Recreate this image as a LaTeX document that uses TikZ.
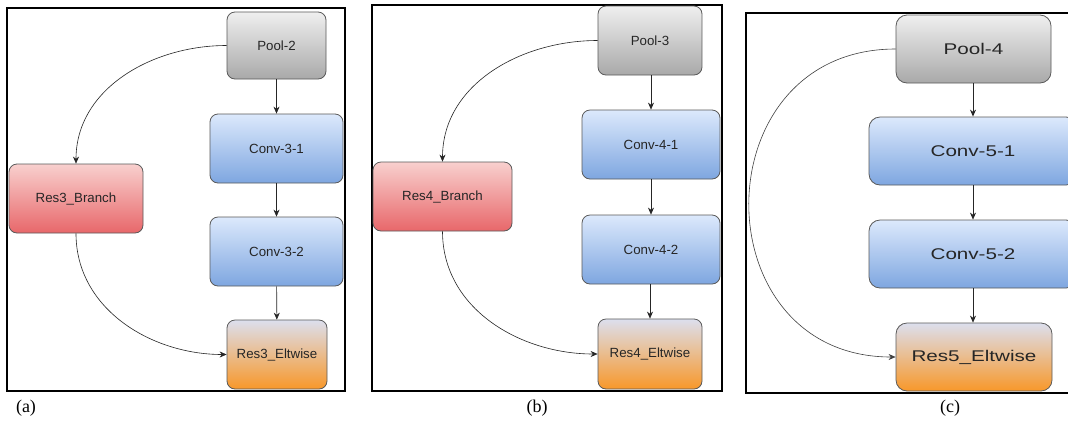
\documentclass[tikz,border=0pt]{standalone}
\usepackage{fontspec}
\usepackage{graphicx}
\setmainfont{Liberation Serif}
\newfontfamily\arialf{Liberation Sans}
\usetikzlibrary{arrows.meta}
\definecolor{boxline}{HTML}{5A5A5A}
\definecolor{poolTop}{HTML}{EFEFEF}
\definecolor{poolBot}{HTML}{A9A9A9}
\definecolor{convTop}{HTML}{DCE9FC}
\definecolor{convBot}{HTML}{7EA6E0}
\definecolor{resTop}{HTML}{F8D0CE}
\definecolor{resBot}{HTML}{E8676A}
\definecolor{eltTop}{HTML}{DCDFEE}
\definecolor{eltMid}{HTML}{F2C6A0}
\definecolor{eltBot}{HTML}{F8982A}
\newcommand\widetxt[1]{\scalebox{1.33}[1]{#1}}
\begin{document}
\begin{tikzpicture}[x=1pt,y=-1pt,
  box/.style={draw=boxline, line width=0.8pt, rounded corners=8pt, inner sep=0pt,
    font=\arialf\fontsize{13.3}{16}\selectfont, text=black!85},
  bigbox/.style={rounded corners=11pt, font=\arialf\fontsize{15.5}{18}\selectfont},
  poolbox/.style={box, top color=poolTop, bottom color=poolBot},
  convbox/.style={box, top color=convTop, bottom color=convBot},
  resbox/.style={box, top color=resTop, bottom color=resBot},
  eltbox/.style={box, top color=eltTop, middle color=eltMid, bottom color=eltBot},
  edge/.style={-{Stealth[length=7pt,width=6pt]}, line width=0.6pt, draw=black!85},
  frame/.style={draw=black, line width=1.6pt},
  caption/.style={font=\fontsize{18}{20}\selectfont}
]
\clip (0,0) rectangle (1068,424);
\fill[white] (0,0) rectangle (1068,424);

% ---------------- (a)
\draw[frame] (7,8) rectangle (345,391);
\node[poolbox, minimum width=99pt, minimum height=67pt] (p2) at (276.5,45.5) {Pool-2};
\node[convbox, minimum width=133pt, minimum height=69pt] (c31) at (276.5,148.5) {Conv-3-1};
\node[convbox, minimum width=133pt, minimum height=69pt] (c32) at (276.5,251.5) {Conv-3-2};
\node[eltbox, minimum width=100pt, minimum height=69pt] (e3) at (277,354.5) {Res3\_Eltwise};
\node[resbox, minimum width=134pt, minimum height=69pt] (b3) at (76,198.5) {Res3\_Branch};
\draw[edge] (p2) -- (c31);
\draw[edge] (c31) -- (c32);
\draw[edge] (c32) -- (e3);
\draw[edge] (p2.west) to[out=180,in=90] (b3.north);
\draw[edge] (b3.south) to[out=-90,in=180] (e3.west);
\node[caption] (la) at (26,408) {(a)};

% ---------------- (b)
\draw[frame] (372,5) rectangle (722,391);
\node[poolbox, minimum width=104pt, minimum height=69pt] (p3) at (650,40.5) {Pool-3};
\node[convbox, minimum width=138pt, minimum height=69pt] (c41) at (651,144.5) {Conv-4-1};
\node[convbox, minimum width=138pt, minimum height=69pt] (c42) at (651,249.5) {Conv-4-2};
\node[eltbox, minimum width=104pt, minimum height=70pt] (e4) at (650,354) {Res4\_Eltwise};
\node[resbox, minimum width=139pt, minimum height=69pt] (b4) at (442.5,196.5) {Res4\_Branch};
\draw[edge] (p3.south -| c41.north) -- (c41.north);
\draw[edge] (c41) -- (c42);
\draw[edge] (c42.south -| e4.north) -- (e4.north);
\draw[edge] (p3.west) to[out=180,in=90] (b4.north);
\draw[edge] (b4.south) to[out=-90,in=180] (e4.west);
\node[caption] (lb) at (537,408) {(b)};

% ---------------- (c)
\draw[frame] (746,13) rectangle (1080,393);
\node[poolbox, bigbox, minimum width=155pt, minimum height=68pt] (p4) at (973.5,49) {\widetxt{Pool-4}};
\node[convbox, bigbox, minimum width=208pt, minimum height=68pt] (c51) at (973,151) {\widetxt{Conv-5-1}};
\node[convbox, bigbox, minimum width=208pt, minimum height=68pt] (c52) at (973,254) {\widetxt{Conv-5-2}};
\node[eltbox, bigbox, minimum width=156pt, minimum height=68pt] (e5) at (974,357) {\widetxt{Res5\_Eltwise}};
\draw[edge, line width=0.9pt] (p4.south -| c51.north) -- (c51.north);
\draw[edge] (c51) -- (c52);
\draw[edge] (c52) -- (c52.south |- e5.north);
\draw[edge, draw=black!75] (p4.west) .. controls +(-195,0) and +(-195,0) .. (e5.west);
\node[caption] (lc) at (950,408) {(c)};
\end{tikzpicture}
\end{document}
